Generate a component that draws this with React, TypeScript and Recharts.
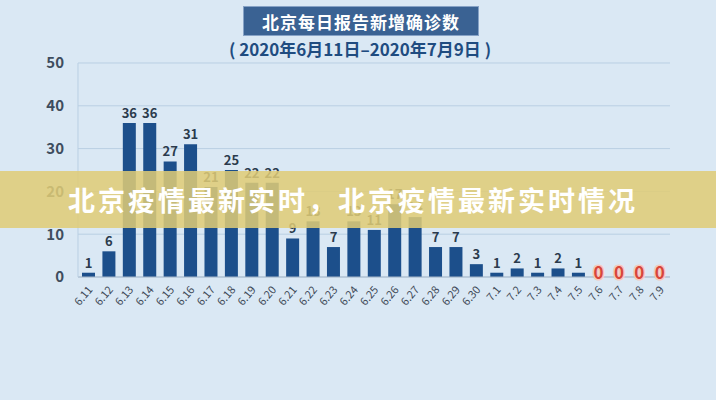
import { BarChart, Bar, XAxis, YAxis, CartesianGrid } from 'recharts'

const dates = [
  '6.11', '6.12', '6.13', '6.14', '6.15', '6.16', '6.17', '6.18', '6.19', '6.20',
  '6.21', '6.22', '6.23', '6.24', '6.25', '6.26', '6.27', '6.28', '6.29', '6.30',
  '7.1', '7.2', '7.3', '7.4', '7.5', '7.6', '7.7', '7.8', '7.9'
]
const cases = [
  1, 6, 36, 36, 27, 31, 21, 25, 22, 22,
  9, 13, 7, 13, 11, 17, 14, 7, 7, 3,
  1, 2, 1, 2, 1, 0, 0, 0, 0
]
const yTicks = [0, 10, 20, 30, 40, 50]

const title = '北京每日报告新增确诊数'
const subtitle = '( 2020年6月11日–2020年7月9日 )'
const banner = '北京疫情最新实时，北京疫情最新实时情况'

const data = dates.map((d, i) => ({ date: d, value: cases[i] }))

const font = '"Noto Sans CJK SC", "Noto Sans", sans-serif'

// non-zero counts sit on top of their bar
const ValueLabel = (props: any) => {
  const { x, y, width, value } = props
  if (!value) return null
  return (
    <text
      x={x + width / 2}
      y={y - 5}
      textAnchor="middle"
      fontSize={13}
      fontWeight={700}
      fontFamily={font}
      fill="#2b3b4d"
    >
      {value}
    </text>
  )
}

// date tick; zero-day counts are drawn in red just above the baseline
const DateTick = (props: any) => {
  const { x, y, payload, index } = props
  const zero = cases[index] === 0
  return (
    <g>
      {zero && (
        <text
          x={x}
          y={y - 6}
          textAnchor="middle"
          fontSize={17}
          fontWeight={700}
          fontFamily={font}
          fill="#d8453a"
          stroke="#f5c8bd"
          strokeWidth={3}
          paintOrder="stroke"
        >
          0
        </text>
      )}
      <g transform={`translate(${x + 5},${y + 5})`}>
        <text
          textAnchor="end"
          transform="rotate(-50)"
          fontSize={11}
          fontFamily={font}
          fill="#3f4a58"
        >
          {payload.value}
        </text>
      </g>
    </g>
  )
}

export default function App() {
  return (
    <div style={{ position: 'fixed', left: 0, top: 0, width: 716, height: 400, background: '#dae8f4', overflow: 'hidden' }}>
      <BarChart
        width={716}
        height={400}
        data={data}
        margin={{ top: 63, right: 46, bottom: 83, left: 0 }}
      >
        <CartesianGrid stroke="#b9cfe3" vertical={false} />
        <XAxis
          dataKey="date"
          interval={0}
          height={40}
          tick={<DateTick />}
          tickLine={false}
          axisLine={{ stroke: '#a9b9c9' }}
        />
        <YAxis
          width={78}
          domain={[0, 50]}
          ticks={yTicks}
          tickLine={false}
          axisLine={{ stroke: '#b9cfe3' }}
          tick={{ fontSize: 15, fontWeight: 700, fill: '#3e4d5e', fontFamily: font, dx: -6 }}
        />
        <Bar dataKey="value" fill="#1c4f8b" barSize={13} isAnimationActive={false} label={<ValueLabel />} />
      </BarChart>

      <div style={{
        position: 'absolute', left: 243, top: 6, width: 236, height: 30,
        background: '#3a6293', border: '1px solid #86a2c6', boxSizing: 'border-box',
        color: '#fff', fontFamily: font, fontWeight: 700, fontSize: 17,
        display: 'flex', alignItems: 'center', justifyContent: 'center', letterSpacing: 1
      }}>
        {title}
      </div>
      <div style={{
        position: 'absolute', left: 200, top: 36, width: 320, height: 24,
        color: '#1f4c80', fontFamily: font, fontWeight: 700, fontSize: 17,
        display: 'flex', alignItems: 'center', justifyContent: 'center'
      }}>
        {subtitle}
      </div>
      <div style={{
        position: 'absolute', left: 0, top: 171, width: 716, height: 57,
        background: 'rgba(224, 204, 118, 0.86)'
      }} />
      <div style={{
        position: 'absolute', left: 68, top: 171, height: 57,
        color: '#fff', fontFamily: font, fontWeight: 700, fontSize: 27, letterSpacing: 3,
        display: 'flex', alignItems: 'center', whiteSpace: 'nowrap'
      }}>
        {banner}
      </div>
    </div>
  )
}
